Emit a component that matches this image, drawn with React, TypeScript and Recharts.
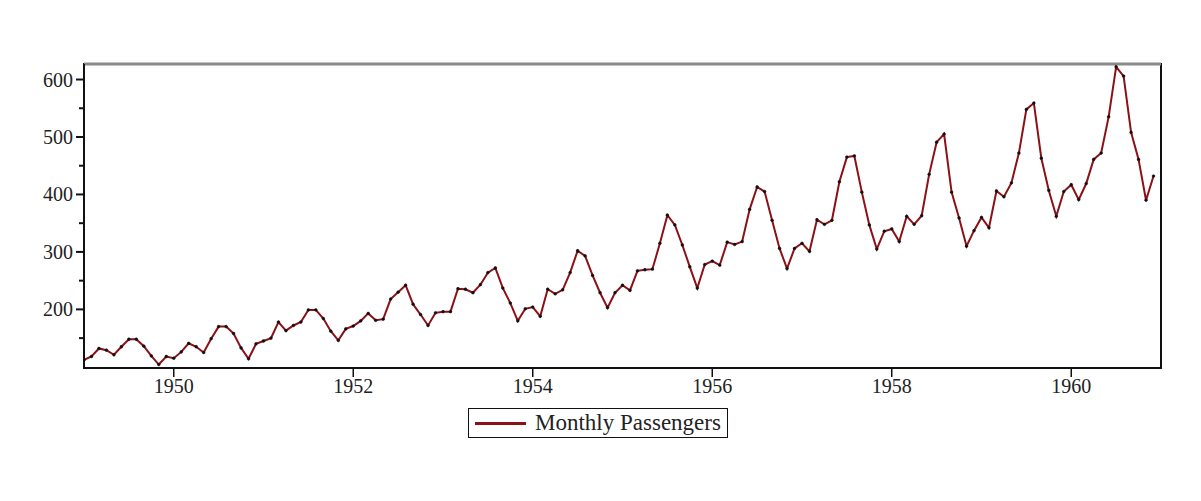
import { Legend, Line, LineChart, ReferenceArea, ReferenceLine, XAxis, YAxis } from "recharts";

const years = [1949, 1950, 1951, 1952, 1953, 1954, 1955, 1956, 1957, 1958, 1959, 1960];

const p1949 = [112, 118, 132, 129, 121, 135, 148, 148, 136, 119, 104, 118];
const p1950 = [115, 126, 141, 135, 125, 149, 170, 170, 158, 133, 114, 140];
const p1951 = [145, 150, 178, 163, 172, 178, 199, 199, 184, 162, 146, 166];
const p1952 = [171, 180, 193, 181, 183, 218, 230, 242, 209, 191, 172, 194];
const p1953 = [196, 196, 236, 235, 229, 243, 264, 272, 237, 211, 180, 201];
const p1954 = [204, 188, 235, 227, 234, 264, 302, 293, 259, 229, 203, 229];
const p1955 = [242, 233, 267, 269, 270, 315, 364, 347, 312, 274, 237, 278];
const p1956 = [284, 277, 317, 313, 318, 374, 413, 405, 355, 306, 271, 306];
const p1957 = [315, 301, 356, 348, 355, 422, 465, 467, 404, 347, 305, 336];
const p1958 = [340, 318, 362, 348, 363, 435, 491, 505, 404, 359, 310, 337];
const p1959 = [360, 342, 406, 396, 420, 472, 548, 559, 463, 407, 362, 405];
const p1960 = [417, 391, 419, 461, 472, 535, 622, 606, 508, 461, 390, 432];

const yearly = [p1949, p1950, p1951, p1952, p1953, p1954, p1955, p1956, p1957, p1958, p1959, p1960];

const xTicks = [1950, 1952, 1954, 1956, 1958, 1960];
const yTicks = [150, 200, 250, 300, 350, 400, 450, 500, 550, 600];

const data = yearly.flatMap((vals, i) =>
  vals.map((v, m) => ({ t: years[i] + m / 12, passengers: v }))
);

const LINE = "#8b1117";
const FONT = "'Liberation Serif', 'DejaVu Serif', serif";

function YTick(props: any) {
  const { x, y, payload } = props;
  const major = payload.value % 100 === 0;
  return (
    <g>
      <line x1={x - (major ? 8 : 5)} x2={x} y1={y} y2={y} stroke="#111" strokeWidth={2} />
      {major && (
        <text x={x - 11} y={y} dy={7} textAnchor="end" fontFamily={FONT} fontSize={20} fill="#222">
          {payload.value}
        </text>
      )}
    </g>
  );
}

function XTick(props: any) {
  const { x, y, payload } = props;
  return (
    <g>
      <line x1={x} x2={x} y1={y} y2={y + 9} stroke="#111" strokeWidth={1.5} />
      <text x={x} y={y + 25} textAnchor="middle" fontFamily={FONT} fontSize={20} fill="#222">
        {payload.value}
      </text>
    </g>
  );
}

function LegendBox() {
  return (
    <div
      style={{
        position: "absolute",
        left: 468,
        top: 408,
        width: 260,
        height: 30,
        border: "1.5px solid #111",
        display: "flex",
        alignItems: "center",
        fontFamily: FONT,
        fontSize: 23,
        color: "#222",
        boxSizing: "border-box",
        whiteSpace: "nowrap",
      }}
    >
      <div style={{ width: 51, height: 3, background: LINE, marginLeft: 6, marginRight: 9 }} />
      <span>Monthly Passengers</span>
    </div>
  );
}

export default function App() {
  return (
    <div style={{ position: "absolute", left: 0, top: 0, width: 1201, height: 501, background: "#fff" }}>
      <LineChart width={1201} height={501} data={data} margin={{ top: 64, right: 40, bottom: 103, left: 0 }}>
        <XAxis
          dataKey="t"
          type="number"
          domain={[1949, 1961]}
          ticks={xTicks}
          allowDataOverflow
          height={30}
          tickSize={0}
          tickMargin={0}
          tick={<XTick />}
          axisLine={{ stroke: "#111", strokeWidth: 2 }}
          tickLine={false}
        />
        <YAxis
          type="number"
          domain={[98, 627]}
          ticks={yTicks}
          allowDataOverflow
          width={84}
          tickSize={0}
          tickMargin={0}
          tick={<YTick />}
          axisLine={{ stroke: "#111", strokeWidth: 2 }}
          tickLine={false}
        />
        <ReferenceArea x1={1949} x2={1961} y1={98} y2={627} fill="none" stroke="#111" strokeWidth={2} />
        <ReferenceLine y={627} stroke="#8a8a8a" strokeWidth={3} />
        <Line
          dataKey="passengers"
          name="Monthly Passengers"
          stroke={LINE}
          strokeWidth={2}
          dot={{ r: 1.4, fill: "#111", stroke: "#111", strokeWidth: 0.5 }}
          isAnimationActive={false}
        />
        <Legend content={() => null} />
      </LineChart>
      <LegendBox />
    </div>
  );
}
